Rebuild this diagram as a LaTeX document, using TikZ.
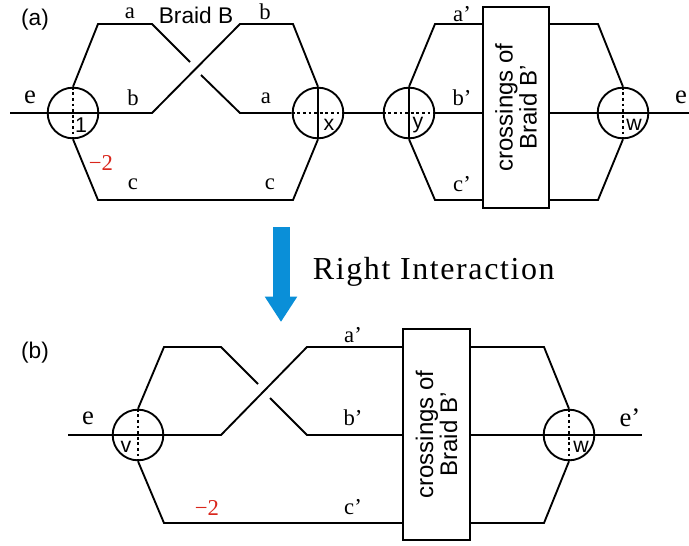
\documentclass[tikz,border=0pt]{standalone}
\usepackage{fontspec}
\setmainfont{Liberation Serif}
\setsansfont{Liberation Sans}
\newfontfamily\spacedserif[LetterSpace=5]{Liberation Serif}
\usetikzlibrary{arrows.meta, positioning, calc}
\definecolor{arrblue}{HTML}{0A8FD8}
\definecolor{negred}{HTML}{D9261C}

\begin{document}
\begin{tikzpicture}[x=0.75pt, y=-0.75pt, line width=1.4pt, line join=miter,
    knot/.style={circle, draw, inner sep=0pt, minimum size=38pt},
    crbox/.style={rectangle, draw, rotate=90, inner sep=0pt, align=center,
      font=\sffamily\fontsize{18}{18}\selectfont},
    lab/.style={inner sep=0pt, font=\fontsize{17}{19}\selectfont},
    elab/.style={inner sep=0pt, font=\fontsize{20}{22}\selectfont},
    slab/.style={inner sep=0pt, font=\sffamily\fontsize{16}{18}\selectfont},
    tlab/.style={inner sep=0pt, font=\sffamily\fontsize{17}{19}\selectfont},
    neg/.style={lab, text=negred},
    dots/.style={line width=1.2pt, dash pattern=on 2.2pt off 2pt},
  ]
    \useasboundingbox (0,0) rectangle (689,546);

    % (a)
    \node[knot] (k1) at (73,113) {};
    \node[knot] (kx) at (318,113) {};
    \node[knot] (ky) at (409,113) {};
    \node[knot] (kw) at (623,113) {};
    \node[crbox, minimum width=151pt, minimum height=49.5pt] (bxa) at (516,107.5) {crossings of\\Braid B’};

    \coordinate (ea) at (10,113);
    \coordinate (ea2) at (689,113);
    \draw (ea) -- (k1.west) -- (k1.east) -- (152,113) -- (240,24) -- (293,24) -- (kx.north);
    \draw (k1.north) -- (98,24) -- (152,24) -- (190,62);
    \draw (201,75) -- (240,113) -- (kx.west);
    \draw (k1.south) -- (98,200) -- (293,200) -- (kx.south);
    \draw (kx.north) -- (kx.south);
    \draw (kx.east) -- (ky.west);
    \draw (ky.north) -- (ky.south);
    \draw (ky.north) -- (435,24) -- (435,24 -| bxa.north);
    \draw (ky.east) -- (ky.east -| bxa.north);
    \draw (ky.south) -- (435,200) -- (435,200 -| bxa.north);
    \draw (598,24 -| bxa.south) -- (598,24) -- (kw.north);
    \draw (kw.west -| bxa.south) -- (kw.west) -- (kw.east) -- (ea2);
    \draw (598,200 -| bxa.south) -- (598,200) -- (kw.south);
    \draw[dots] (k1.north) -- (k1.south);
    \draw[dots] (kx.west) -- (kx.east);
    \draw[dots] (ky.west) -- (ky.east);
    \draw[dots] (kw.north) -- (kw.south);

    \node[tlab] (pa) at (35,20) {(a)};
    \node[tlab] (brb) at (196,15) {Braid B};
    \node[lab] (la1) at (130,13) {a};
    \node[lab] (lb1) at (265,12) {b};
    \node[elab] (le1) at (30,97) {e};
    \node[lab] (lb2) at (133,98) {b};
    \node[lab] (la2) at (266,98) {a};
    \node[neg] (n1) at (101,163) {−2};
    \node[lab] (lc1) at (133,184) {c};
    \node[lab] (lc2) at (270,184) {c};
    \node[lab] (la3) at (462,14) {a’};
    \node[lab] (lb3) at (462,98) {b’};
    \node[lab] (lc3) at (462,184) {c’};
    \node[elab] (le2) at (681,97) {e};
    \node[slab] (t1) at (81,125) {1};
    \node[slab] (tx) at (329,125) {x};
    \node[slab] (ty) at (418,125) {y};
    \node[slab] (tw) at (634,125) {w};

    % arrow
    \coordinate (arrtop) at (281,227);
    \coordinate (arrtip) at (281,322);
    \draw[arrblue, line width=12.75pt, -{Triangle[length=19pt, width=23pt]}] (arrtop) -- (arrtip);
    \node[anchor=west, inner sep=0pt, font=\spacedserif\fontsize{24}{26}\selectfont] (ri) at (312,272) {Right Interaction};

    % (b)
    \node[knot] (kv) at (138,435) {};
    \node[knot] (kw2) at (569,435) {};
    \node[crbox, minimum width=158pt, minimum height=50pt] (bxb) at (436.5,434.5) {crossings of\\Braid B’};

    \coordinate (eb) at (68,435);
    \coordinate (eb2) at (642,435);
    \draw (eb) -- (kv.west) -- (kv.east) -- (221,435) -- (307,347) -- (307,347 -| bxb.north);
    \draw (kv.north) -- (164,347) -- (221,347) -- (258,384);
    \draw (270,398) -- (307,435) -- (307,435 -| bxb.north);
    \draw (kv.south) -- (164,523) -- (164,523 -| bxb.north);
    \draw (544,347 -| bxb.south) -- (544,347) -- (kw2.north);
    \draw (kw2.west -| bxb.south) -- (kw2.west) -- (kw2.east) -- (eb2);
    \draw (544,523 -| bxb.south) -- (544,523) -- (kw2.south);
    \draw[dots] (kv.north) -- (kv.south);
    \draw[dots] (kw2.north) -- (kw2.south);

    \node[tlab] (pb) at (35,353) {(b)};
    \node[elab] (le3) at (88,418) {e};
    \node[slab] (tv) at (126,447) {v};
    \node[neg] (n2) at (207,508) {−2};
    \node[lab] (la4) at (353,335) {a’};
    \node[lab] (lb4) at (353,418) {b’};
    \node[lab] (lc4) at (353,507) {c’};
    \node[elab] (le4) at (630,418) {e’};
    \node[slab] (tw2) at (581,447) {w};
  \end{tikzpicture}
\end{document}
